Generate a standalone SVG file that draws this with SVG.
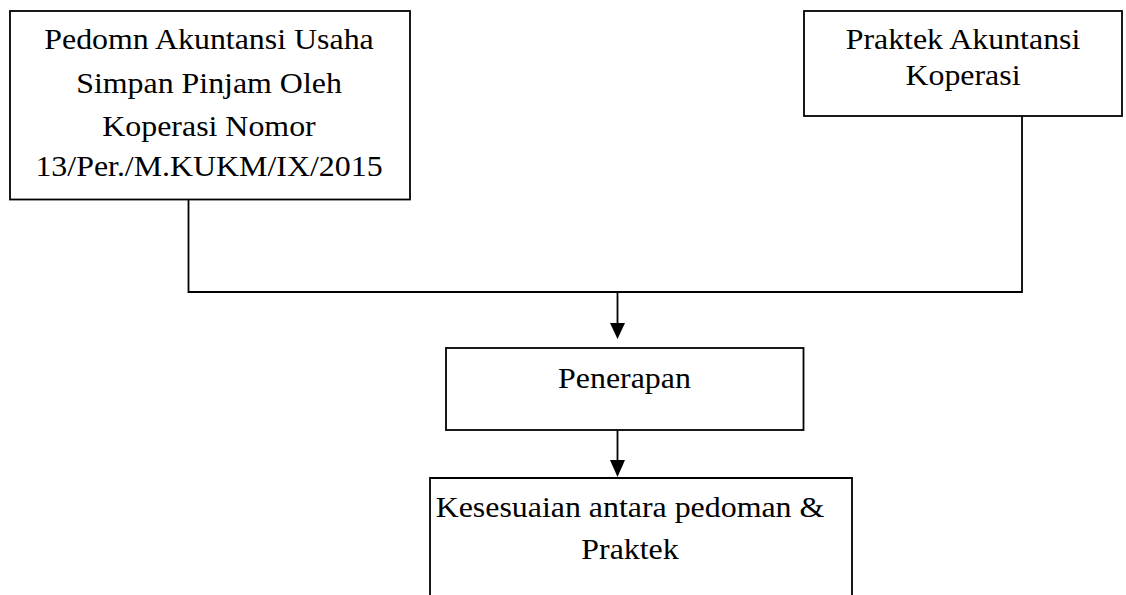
<svg xmlns="http://www.w3.org/2000/svg" width="1126" height="595" viewBox="0 0 1126 595">
  <style>
    .box { fill: #ffffff; stroke: #000000; stroke-width: 1.8; }
    .conn { fill: none; stroke: #000000; stroke-width: 1.8; }
    .lbl { font-family: "Liberation Serif", "Times New Roman", serif; font-size: 29px; fill: #000000; text-anchor: middle; }
  </style>
  <defs>
    <marker id="arrow" markerUnits="userSpaceOnUse" markerWidth="16" markerHeight="18" refX="8" refY="16" orient="auto-start-reverse" viewBox="0 0 16 18">
      <path d="M0,0 L16,0 L8,16 Z" fill="#000000" transform="rotate(-90 8 8)"/>
    </marker>
  </defs>
  <rect width="1126" height="595" fill="#ffffff"/>

  <g id="connectors">
    <path class="conn" d="M188.5,200 V292 H1022 V116"/>
    <line class="conn" x1="617.5" y1="292" x2="617.5" y2="325"/>
    <polygon points="610,323 625,323 617.5,339" fill="#000000"/>
    <line class="conn" x1="617.5" y1="430" x2="617.5" y2="462"/>
    <polygon points="610,460 625,460 617.5,477" fill="#000000"/>
  </g>

  <g id="node-pedoman">
    <rect class="box" x="10" y="11" width="400" height="188.5"/>
    <text class="lbl" transform="translate(209,49) scale(1.1,1)" x="0" y="0">Pedomn Akuntansi Usaha</text>
    <text class="lbl" transform="translate(209,92.5) scale(1.1,1)" x="0" y="0">Simpan Pinjam Oleh</text>
    <text class="lbl" transform="translate(209,135.5) scale(1.1,1)" x="0" y="0">Koperasi Nomor</text>
    <text class="lbl" transform="translate(209,176) scale(1.1,1)" x="0" y="0">13/Per./M.KUKM/IX/2015</text>
  </g>

  <g id="node-praktek">
    <rect class="box" x="804" y="11" width="318" height="105"/>
    <text class="lbl" transform="translate(963,49) scale(1.1,1)" x="0" y="0">Praktek Akuntansi</text>
    <text class="lbl" transform="translate(963,85) scale(1.1,1)" x="0" y="0">Koperasi</text>
  </g>

  <g id="node-penerapan">
    <rect class="box" x="446" y="348" width="357.5" height="82"/>
    <text class="lbl" transform="translate(624.5,388) scale(1.1,1)" x="0" y="0">Penerapan</text>
  </g>

  <g id="node-kesesuaian">
    <path class="box" d="M430,600 V478 H852 V600"/>
    <text class="lbl" transform="translate(630,517) scale(1.1,1)" x="0" y="0">Kesesuaian antara pedoman &amp;</text>
    <text class="lbl" transform="translate(630,559) scale(1.1,1)" x="0" y="0">Praktek</text>
  </g>
</svg>
